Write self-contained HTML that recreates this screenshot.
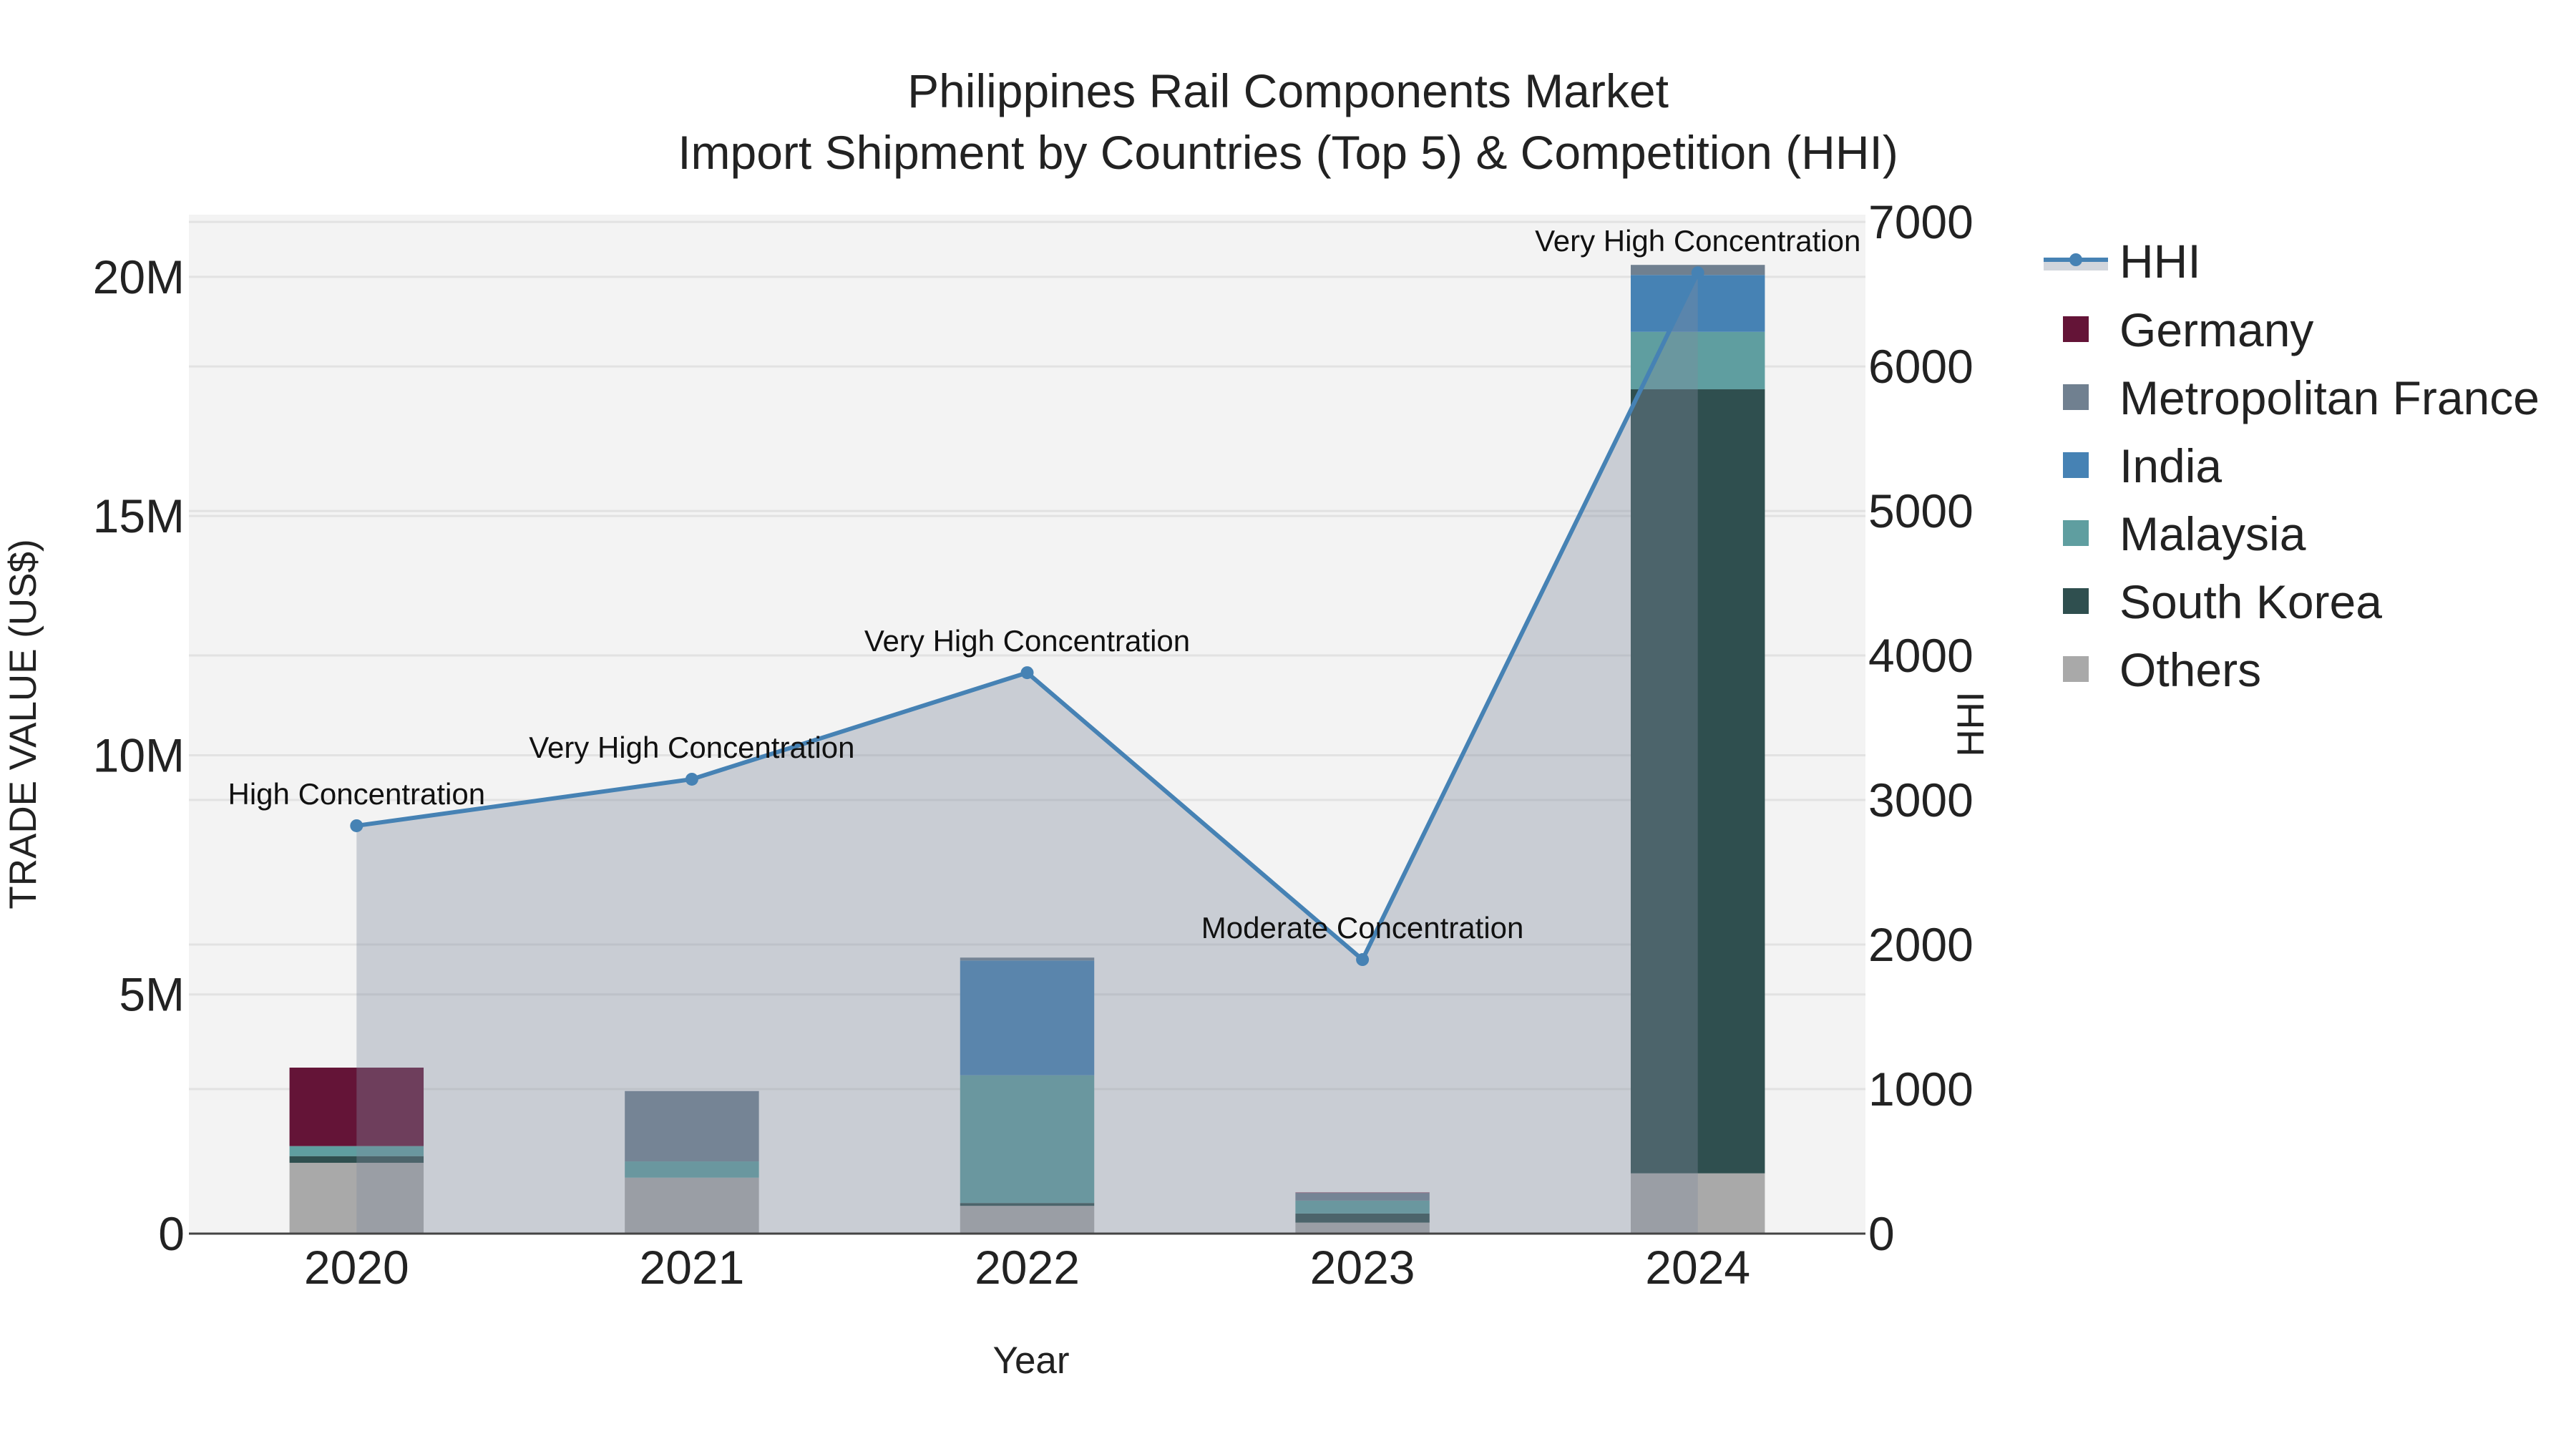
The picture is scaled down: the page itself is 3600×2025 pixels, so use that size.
<!DOCTYPE html>
<html><head><meta charset="utf-8">
<style>
html,body{margin:0;padding:0;background:#fff;}
svg{display:block;font-family:"Liberation Sans",sans-serif;}
</style></head>
<body>
<svg id="chart" width="3600" height="2025" viewBox="0 0 3600 2025" xmlns="http://www.w3.org/2000/svg">
<text x="1800" y="150" font-size="66" text-anchor="middle" fill="#222">Philippines Rail Components Market</text>
<text x="1800" y="236" font-size="66" text-anchor="middle" fill="#222">Import Shipment by Countries (Top 5) &amp; Competition (HHI)</text>
<rect x="264" y="300" width="2343" height="1424" fill="#f3f3f3"/>
<g id="grid"></g>
<g id="bars"></g>
<g id="hhi"></g>
<g id="axes"></g>
<text transform="translate(50,1012) rotate(-90)" font-size="53" text-anchor="middle" fill="#222">TRADE VALUE (US$)</text>
<text transform="translate(2772,1012) rotate(-90)" font-size="53" text-anchor="middle" fill="#222">HHI</text>
<text x="1441" y="1919" font-size="53" text-anchor="middle" fill="#222">Year</text>
<g id="legend"></g>
</svg>
<script>
const years = ['2020','2021','2022','2023','2024'];
const others = [1.48, 1.17, 0.58, 0.23, 1.26];
const southKorea = [0.14, 0.0, 0.06, 0.19, 16.39];
const malaysia = [0.21, 0.34, 2.67, 0.27, 1.2];
const india = [0.0, 0.0, 2.4, 0.0, 1.19];
const france = [0.0, 1.47, 0.06, 0.16, 0.21];
const germany = [1.64, 0.0, 0.0, 0.01, 0.0];
const hhi = [2822, 3144, 3881, 1896, 6648];
const hhiLabels = ['High Concentration','Very High Concentration','Very High Concentration','Moderate Concentration','Very High Concentration'];
const yTicks = [0, 5, 10, 15, 20];
const yTickLabels = ['0','5M','10M','15M','20M'];
const y2Ticks = [0,1000,2000,3000,4000,5000,6000,7000];

const NS='http://www.w3.org/2000/svg';
const L=264,R=2607,T=300,B=1724;
const step=(R-L)/years.length;
const xc=i=>L+step*(i+0.5);
const y=v=>B-(v/21.3)*(B-T);
const y2=v=>B-(v/7050)*(B-T);
function mk(tag,attrs,parent,text){const e=document.createElementNS(NS,tag);for(const k in attrs)e.setAttribute(k,attrs[k]);if(text!==undefined)e.textContent=text;parent.appendChild(e);return e;}
const grid=document.getElementById('grid'),bars=document.getElementById('bars'),hg=document.getElementById('hhi'),axes=document.getElementById('axes'),leg=document.getElementById('legend');

yTicks.forEach((t,i)=>{
  if(t>0){const g=mk('line',{x1:L,x2:R,y1:y(t),y2:y(t),stroke:'#e2e2e2','stroke-width':3},grid);
  
  }
  const tl=mk('text',{x:L-6,y:y(t)+23,'font-size':66,'text-anchor':'end',fill:'#222'},axes,yTickLabels[i]);
  
  
});
y2Ticks.forEach(t=>{
  if(t>0){const g=mk('line',{x1:L,x2:R,y1:y2(t),y2:y2(t),stroke:'#e2e2e2','stroke-width':3},grid);
  
  }
  const tl=mk('text',{x:R+4,y:y2(t)+23,'font-size':66,fill:'#222'},axes,String(t));
  
  
});

const series=[
 {name:'Others',vals:others,color:'#a9a9a9'},
 {name:'South Korea',vals:southKorea,color:'#2f4f4f'},
 {name:'Malaysia',vals:malaysia,color:'#5f9ea0'},
 {name:'India',vals:india,color:'#4682b4'},
 {name:'Metropolitan France',vals:france,color:'#708090'},
 {name:'Germany',vals:germany,color:'#641437'}
];
const bw=step*0.4;
years.forEach((yr,i)=>{
  let base=0;
  series.forEach(s=>{
    const v=s.vals[i]; if(v<=0)return;
    const r=mk('rect',{x:xc(i)-bw/2,y:y(base+v),width:bw,height:y(base)-y(base+v),fill:s.color},bars);
    
    
    base+=v;
  });
  const xl=mk('text',{x:xc(i),y:1794,'font-size':66,'text-anchor':'middle',fill:'#222'},axes,yr);
  
  
});

let d='M'+xc(0)+','+B;
hhi.forEach((h,i)=>{d+=' L'+xc(i)+','+y2(h);});
d+=' L'+xc(hhi.length-1)+','+B+' Z';
const area=mk('path',{d:d,fill:'rgba(128,138,158,0.36)'},hg);


const line=mk('polyline',{points:hhi.map((h,i)=>xc(i)+','+y2(h)).join(' '),fill:'none',stroke:'#4682b4','stroke-width':6},hg);


hhi.forEach((h,i)=>{
  const c=mk('circle',{cx:xc(i),cy:y2(h),r:9,fill:'#4682b4'},hg);
  
  
  const t=mk('text',{x:xc(i),y:y2(h)-30,'font-size':42,'text-anchor':'middle',fill:'#111'},hg,hhiLabels[i]);
  
  
});
mk('line',{x1:L,x2:R,y1:B,y2:B,stroke:'#444','stroke-width':3},axes);

const lx=2856;
const lr=mk('rect',{x:lx,y:362,width:90,height:16,fill:'rgba(128,138,158,0.36)'},leg);


const ll=mk('line',{x1:lx,x2:lx+90,y1:363,y2:363,stroke:'#4682b4','stroke-width':6},leg);


const lc=mk('circle',{cx:lx+45,cy:363,r:9,fill:'#4682b4'},leg);


const lt=mk('text',{x:2962,y:388,'font-size':66,fill:'#222'},leg,'HHI');


const order=['Germany','Metropolitan France','India','Malaysia','South Korea','Others'];
order.forEach((n,k)=>{
  const s=series.find(q=>q.name===n);
  const cy=460+k*95;
  const sq=mk('rect',{x:2883,y:cy-18,width:36,height:36,fill:s.color},leg);
  
  
  const tx=mk('text',{x:2962,y:cy+24,'font-size':66,fill:'#222'},leg,n);
  
  
});
</script>
</body></html>
